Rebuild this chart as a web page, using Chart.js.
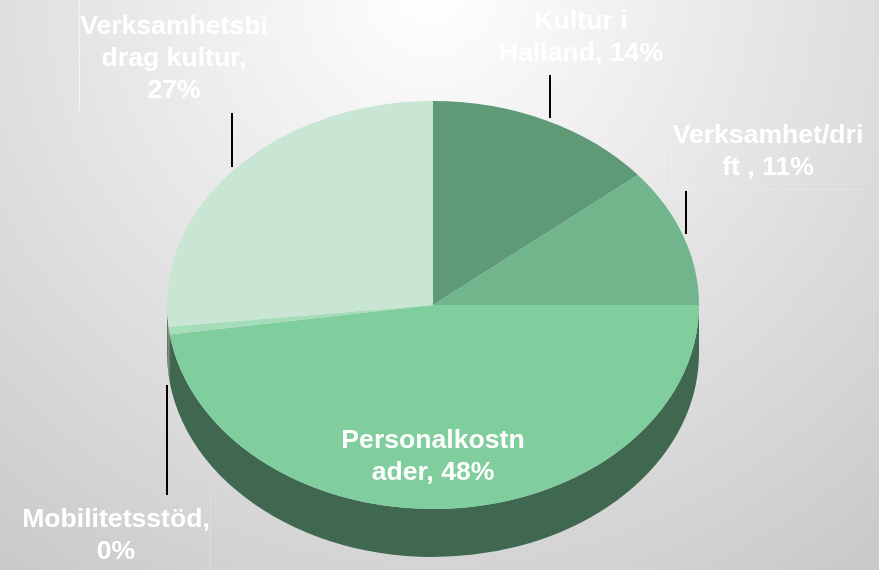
<!DOCTYPE html>
<html>
<head>
<meta charset="utf-8">
<style>
    html, body { margin: 0; padding: 0; width: 879px; height: 570px; overflow: hidden; }
    body { background: radial-gradient(circle 725px at 430px -10px, #ffffff, #c9c9c9); }
    canvas { display: block; }
</style>
<script src="https://cdn.jsdelivr.net/npm/chart.js@4"></script>
</head>
<body>
<canvas id="pieChart" width="879" height="570"></canvas>
<script>
const categories = ['Kultur i Halland', 'Verksamhet/drift', 'Personalkostnader', 'Mobilitetsstöd', 'Verksamhetsbidrag kultur'];
const values = [14, 11, 47.7, 0.6, 26.7];
const sliceColors = ['#5f9a77', '#70b58b', '#80cd9d', '#a5dcb9', '#c9e6d4'];

// wrapped the same way as in the original
const labelLines = [
    ['Kultur i', 'Halland, 14%'],
    ['Verksamhet/dri', 'ft , 11%'],
    ['Personalkostn', 'ader, 48%'],
    ['Mobilitetsstöd,', '0%'],
    ['Verksamhetsbi', 'drag kultur,', '27%']
];
const labelCenters = [[581, 22], [768, 136], [433, 441], [116, 520], [174, 27]];
const leaderLines = [[550, 75, 118], [686, 191, 234], [167, 385, 495], [232, 113, 167]];

// flattened pie: centre and height of the tilted top face
const pieCenterY = 305;
const pieRadiusY = 204;
const pieDepth = 48;

function halve(hex) {
    const n = parseInt(hex.slice(1), 16);
    return `rgb(${(n >> 16) / 2}, ${((n >> 8) & 255) / 2}, ${(n & 255) / 2})`;
}

const tiltPlugin = {
    id: 'tilt',
    beforeDatasetsDraw(chart) {
        const ctx = chart.ctx;
        const arcs = chart.getDatasetMeta(0).data;
        const cx = arcs[0].x;
        const rx = arcs[0].outerRadius;

        // side wall, only the front half can be seen
        arcs.forEach((arc, i) => {
            const from = Math.max(arc.startAngle, 0);
            const to = Math.min(arc.endAngle, Math.PI);
            if (from >= to) return;
            ctx.beginPath();
            ctx.ellipse(cx, pieCenterY, rx, pieRadiusY, 0, from, to);
            ctx.ellipse(cx, pieCenterY + pieDepth, rx, pieRadiusY, 0, to, from, true);
            ctx.closePath();
            ctx.fillStyle = halve(sliceColors[i]);
            ctx.fill();
        });

        ctx.save();
        ctx.translate(0, pieCenterY);
        ctx.scale(1, pieRadiusY / rx);
        ctx.translate(0, -arcs[0].y);
    },
    afterDatasetsDraw(chart) {
        chart.ctx.restore();
    },
    afterDraw(chart) {
        const ctx = chart.ctx;

        // faint leftovers of the label boxes
        ctx.lineWidth = 1;
        ctx.strokeStyle = 'rgba(255,255,255,0.55)';
        ctx.beginPath();
        ctx.moveTo(79.5, 0);
        ctx.lineTo(79.5, 111);
        ctx.stroke();
        ctx.strokeStyle = 'rgba(255,255,255,0.22)';
        ctx.beginPath();
        ctx.moveTo(671.5, 109);
        ctx.lineTo(671.5, 189.5);
        ctx.lineTo(864, 189.5);
        ctx.moveTo(210.5, 493);
        ctx.lineTo(210.5, 570);
        ctx.stroke();

        ctx.lineWidth = 2;
        ctx.strokeStyle = '#000000';
        leaderLines.forEach(([x, y1, y2]) => {
            ctx.beginPath();
            ctx.moveTo(x, y1);
            ctx.lineTo(x, y2);
            ctx.stroke();
        });

        ctx.fillStyle = '#ffffff';
        ctx.font = 'bold 26.6px "Liberation Sans", Arial, sans-serif';
        ctx.textAlign = 'center';
        ctx.textBaseline = 'middle';
        labelLines.forEach((lines, i) => {
            lines.forEach((line, j) => {
                ctx.fillText(line, labelCenters[i][0], labelCenters[i][1] + j * 32);
            });
        });
    }
};

new Chart(document.getElementById('pieChart').getContext('2d'), {
    type: 'pie',
    data: {
        labels: categories,
        datasets: [{
            data: values,
            backgroundColor: sliceColors,
            borderWidth: 0
        }]
    },
    options: {
        responsive: false,
        animation: false,
        layout: { padding: { left: 167, right: 180, top: 19, bottom: 19 } },
        plugins: {
            legend: { display: false },
            tooltip: { enabled: false }
        }
    },
    plugins: [tiltPlugin]
});
</script>
</body>
</html>
